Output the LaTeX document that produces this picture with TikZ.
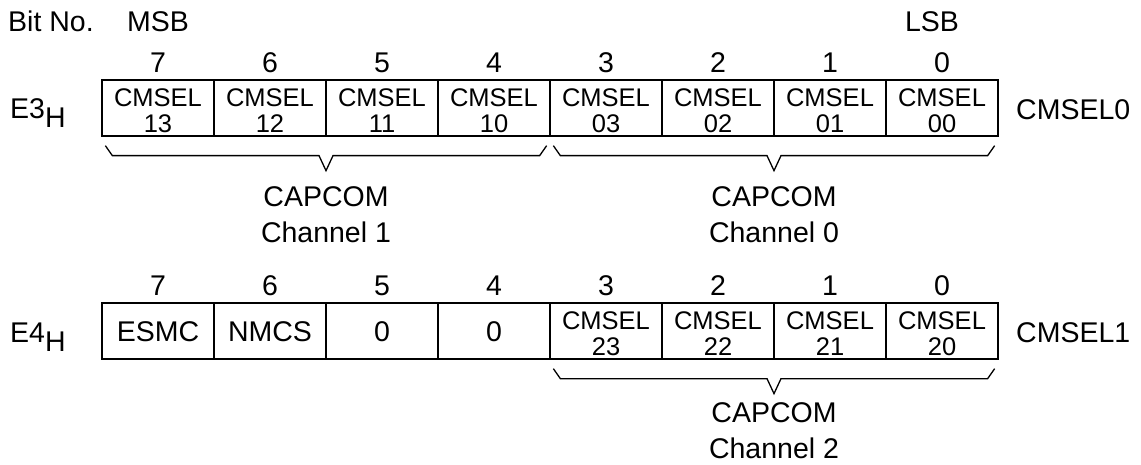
\documentclass[tikz,border=0pt]{standalone}
\usepackage{fontspec}
\setmainfont{Liberation Sans}
\usetikzlibrary{calc}
\begin{document}
\begin{tikzpicture}[x=1pt,y=-1pt,
  cell/.style={draw, line width=1.3pt, minimum width=112pt, minimum height=56pt, inner sep=0pt},
  ctext/.style={font=\fontsize{25.5}{25.5}\selectfont, align=center, inner sep=0pt},
  big/.style={font=\fontsize{28.5}{36}\selectfont, inner sep=0pt},
  bitnum/.style={font=\fontsize{28.5}{36}\selectfont, inner sep=0pt},
  brc/.style={draw, line width=1.3pt}]
\useasboundingbox (0,0) rectangle (1141,465);

% header
\node[big, anchor=base west] (bitno) at (8,32) {Bit No.};
\node[big, anchor=base] (msb) at (158,32) {MSB};
\node[big, anchor=base] (lsb) at (932,32) {LSB};

% ---------- register E3H ----------
\node[big, anchor=base west] (e3) at (10,119) {E3\raisebox{-9pt}{H}};
\node[cell] (a7) at (158,108) {};
\node[cell] (a6) at (270,108) {};
\node[cell] (a5) at (382,108) {};
\node[cell] (a4) at (494,108) {};
\node[cell] (a3) at (606,108) {};
\node[cell] (a2) at (718,108) {};
\node[cell] (a1) at (830,108) {};
\node[cell] (a0) at (942,108) {};
\node[ctext] (ta7) at ($(a7.center)+(0,2.5)$) {CMSEL\\13};
\node[ctext] (ta6) at ($(a6.center)+(0,2.5)$) {CMSEL\\12};
\node[ctext] (ta5) at ($(a5.center)+(0,2.5)$) {CMSEL\\11};
\node[ctext] (ta4) at ($(a4.center)+(0,2.5)$) {CMSEL\\10};
\node[ctext] (ta3) at ($(a3.center)+(0,2.5)$) {CMSEL\\03};
\node[ctext] (ta2) at ($(a2.center)+(0,2.5)$) {CMSEL\\02};
\node[ctext] (ta1) at ($(a1.center)+(0,2.5)$) {CMSEL\\01};
\node[ctext] (ta0) at ($(a0.center)+(0,2.5)$) {CMSEL\\00};
\foreach \n in {7,...,0} {
  \node[bitnum] (na\n) at ($(a\n.center)+(0,-45)$) {\n};
}
\node[big, anchor=west] (reg0) at (1016,110) {CMSEL0};

% braces under E3H
\draw[brc] let \p1=(a7.south west), \p2=(a4.south east) in
  (\x1+4pt,\y1-9pt) -- (\x1+11pt,\y1-19pt) -- ({(\x1+\x2)/2-7pt},\y1-19pt)
  -- ({(\x1+\x2)/2},\y1-34pt) -- ({(\x1+\x2)/2+7pt},\y1-19pt)
  -- (\x2-11pt,\y1-19pt) -- (\x2-4pt,\y1-9pt);
\draw[brc] let \p1=(a3.south west), \p2=(a0.south east) in
  (\x1+4pt,\y1-9pt) -- (\x1+11pt,\y1-19pt) -- ({(\x1+\x2)/2-7pt},\y1-19pt)
  -- ({(\x1+\x2)/2},\y1-34pt) -- ({(\x1+\x2)/2+7pt},\y1-19pt)
  -- (\x2-11pt,\y1-19pt) -- (\x2-4pt,\y1-9pt);
\node[big, align=center] (ch1) at (326,215) {CAPCOM\\Channel 1};
\node[big, align=center] (ch0) at (774,215) {CAPCOM\\Channel 0};

% ---------- register E4H ----------
\node[big, anchor=base west] (e4) at (10,342) {E4\raisebox{-9pt}{H}};
\node[cell] (b7) at (158,331) {};
\node[cell] (b6) at (270,331) {};
\node[cell] (b5) at (382,331) {};
\node[cell] (b4) at (494,331) {};
\node[cell] (b3) at (606,331) {};
\node[cell] (b2) at (718,331) {};
\node[cell] (b1) at (830,331) {};
\node[cell] (b0) at (942,331) {};
\node[big] (tb7) at ($(b7.center)+(0,0.5)$) {ESMC};
\node[big] (tb6) at ($(b6.center)+(0,0.5)$) {NMCS};
\node[big] (tb5) at ($(b5.center)+(0,0.5)$) {0};
\node[big] (tb4) at ($(b4.center)+(0,0.5)$) {0};
\node[ctext] (tb3) at ($(b3.center)+(0,2.5)$) {CMSEL\\23};
\node[ctext] (tb2) at ($(b2.center)+(0,2.5)$) {CMSEL\\22};
\node[ctext] (tb1) at ($(b1.center)+(0,2.5)$) {CMSEL\\21};
\node[ctext] (tb0) at ($(b0.center)+(0,2.5)$) {CMSEL\\20};
\foreach \n in {7,...,0} {
  \node[bitnum] (nb\n) at ($(b\n.center)+(0,-45)$) {\n};
}
\node[big, anchor=west] (reg1) at (1016,333) {CMSEL1};

\draw[brc] let \p1=(b3.south west), \p2=(b0.south east) in
  (\x1+4pt,\y1-9pt) -- (\x1+11pt,\y1-19pt) -- ({(\x1+\x2)/2-7pt},\y1-19pt)
  -- ({(\x1+\x2)/2},\y1-34pt) -- ({(\x1+\x2)/2+7pt},\y1-19pt)
  -- (\x2-11pt,\y1-19pt) -- (\x2-4pt,\y1-9pt);
\node[big, align=center] (ch2) at (774,431) {CAPCOM\\Channel 2};
\end{tikzpicture}
\end{document}
